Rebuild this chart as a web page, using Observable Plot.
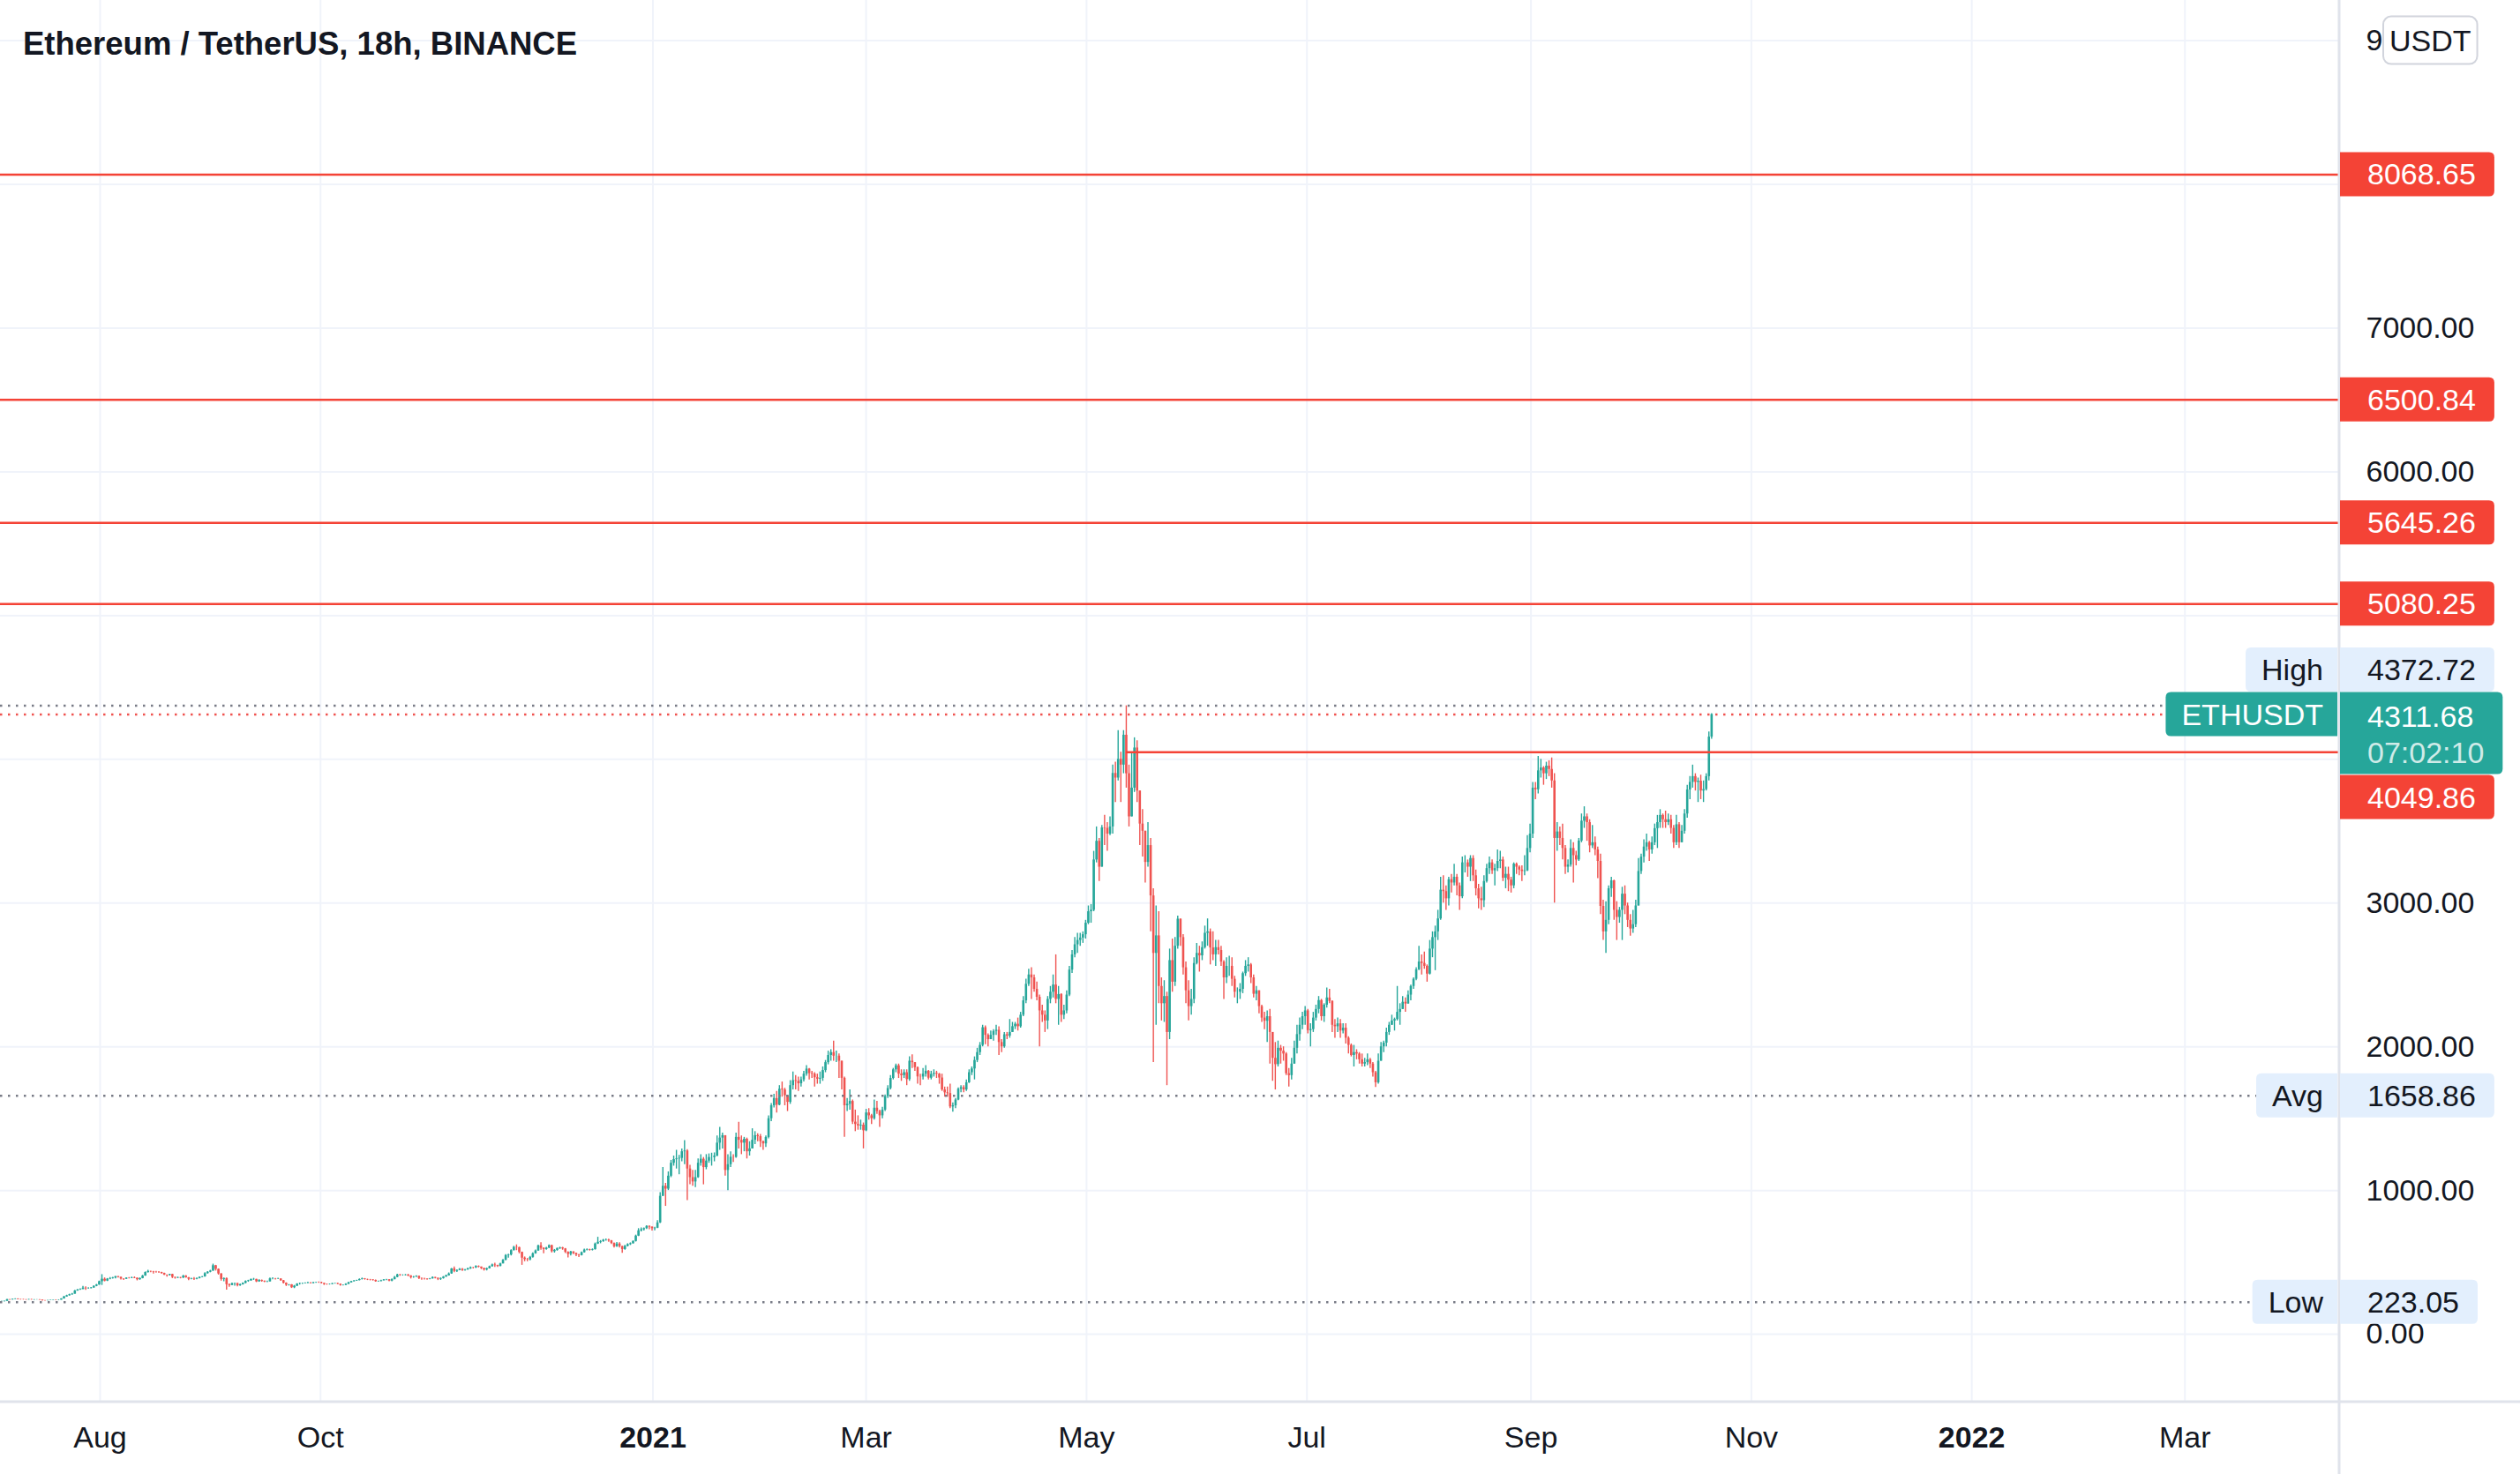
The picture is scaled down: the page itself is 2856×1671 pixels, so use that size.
<!DOCTYPE html>
<html><head><meta charset="utf-8">
<script src="https://cdn.jsdelivr.net/npm/d3@7"></script>
<script src="https://cdn.jsdelivr.net/npm/@observablehq/plot@0.6"></script>
<style>
html,body{margin:0;padding:0;background:#fff;overflow:hidden;}
#chart svg{display:block;}
</style></head><body><div id="chart"></div>
<script>
// ---------------- DATA ----------------
const title = "Ethereum / TetherUS, 18h, BINANCE";
const firstOpen = 225;
const firstBarUTC = "2020-07-04T00:00:00Z";
const barHours = 18;
// each bar: [close, high, low]; open = previous close
const bars2020JulSep = [
[228,230,223],[228,231,226],[230,231,225],[241,243,229],
[239,242,236],[243,244,238],[245,248,242],[242,247,240],
[241,243,238],[240,243,238],[239,242,237],[241,243,238],
[239,243,238],[240,242,237],[240,242,238],[238,241,237],
[234,239,231],[233,235,231],[234,236,232],[236,237,233],
[238,239,235],[237,240,235],[238,240,235],[246,248,237],
[260,264,245],[268,272,258],[275,279,266],[279,285,272],
[301,305,279],[308,312,300],[312,316,306],[321,333,310],
[317,330,305],[318,324,313],[322,325,316],[334,336,321],
[343,347,331],[366,370,341],[383,415,340],[370,392,365],
[384,388,367],[388,395,380],[392,396,384],[401,403,385],
[396,402,392],[385,398,378],[383,387,375],[391,393,381],
[390,394,386],[393,398,387],[390,399,387],[380,392,372],
[388,392,376],[405,410,386],[430,434,404],[437,446,425],
[435,440,428],[432,438,420],[431,437,425],[430,436,424],
[424,432,418],[412,425,408],[409,413,398],[416,418,406],
[396,418,388],[391,396,384],[394,398,388],[391,396,386],
[405,410,389],[394,408,390],[383,395,373],[386,390,379],
[383,394,375],[388,392,380],[396,399,386],[399,402,393],
[422,428,398],[432,436,420],[440,445,428],[477,488,438],
[452,480,440],[420,455,412],[382,422,370],[388,392,365],
[345,392,308],[340,350,328],[352,357,338],[353,357,335],
[338,355,330],[344,350,333],[354,358,342],[368,372,352],
[372,376,362],[381,385,369],[382,389,375],[365,383,360],
[375,380,362],[370,378,363],[364,370,360],[365,370,360],
[386,392,364],[386,393,380],[384,388,378],[385,390,381],
[373,386,368],[355,375,350],[342,358,333],[344,346,336],
[324,346,319],[335,340,318],[350,352,332],[352,356,342],
[353,356,347],[355,358,350],[357,362,352],[354,360,350],
[359,361,351],[360,363,355],[359,364,355],[354,362,351]
];
const bars2020OctDec = [
[347,355,340],[346,350,342],[347,350,343],[352,354,345],
[353,355,349],[348,355,345],[340,350,335],[341,344,336],
[348,352,338],[358,362,346],[366,369,356],[370,375,364],
[374,377,368],[381,386,372],[385,391,378],[381,388,377],
[379,384,374],[378,382,372],[375,380,370],[366,378,362],
[367,370,363],[372,376,365],[378,381,372],[379,383,374],
[370,381,365],[380,385,366],[396,403,380],[413,418,393],
[410,416,404],[410,414,405],[412,416,406],[406,417,401],
[395,408,385],[398,402,390],[403,407,396],[388,406,381],
[386,392,376],[385,390,378],[383,387,377],[386,389,380],
[395,399,384],[390,397,385],[383,390,374],[388,392,375],
[398,402,384],[407,412,397],[420,427,405],[455,458,418],
[438,468,428],[444,448,430],[452,458,442],[444,457,437],
[448,452,440],[455,460,446],[463,468,452],[462,466,455],
[472,477,458],[468,476,462],[458,466,450],[448,460,440],
[456,461,441],[470,475,455],[482,488,468],[478,495,466],
[472,480,466],[490,494,470],[515,520,490],[548,555,512],
[552,558,530],[582,588,545],[605,612,580],[603,622,582],
[570,606,560],[530,572,480],[520,538,505],[518,528,505],
[535,542,512],[560,566,530],[580,586,558],[615,620,578],
[598,637,585],[590,602,560],[600,605,585],[617,622,596],
[575,620,566],[584,590,565],[597,600,578],[601,606,590],
[594,605,585],[570,597,562],[556,574,531],[573,577,545],
[562,575,555],[552,565,540],[548,556,535],[568,572,545],
[586,592,565],[589,594,580],[585,592,579],[589,594,580],
[628,635,586],[640,675,625],[645,652,630],[655,660,640],
[656,664,648],[650,662,640],[632,652,625],[609,636,600],
[628,638,605],[610,637,600],[590,612,564],[612,618,585],
[624,630,608],[630,636,618],[646,650,628],[683,690,642],
[720,735,680],[728,740,712],[735,740,718],[751,755,730],
[745,754,728],[735,748,718],[738,744,720],[775,790,735]
];
const bars2021JanMar = [
[960,985,770],[1030,1160,960],[1010,1050,890],[1100,1130,1000],
[1190,1210,1090],[1215,1240,1170],[1220,1280,1150],[1224,1245,1110],
[1270,1290,1200],[1275,1347,1180],[1150,1285,930],[1090,1175,1040],
[1060,1140,1030],[1090,1140,1020],[1190,1220,1085],[1218,1250,1170],
[1160,1230,1040],[1205,1250,1145],[1230,1255,1190],[1230,1260,1170],
[1240,1262,1200],[1330,1380,1235],[1365,1440,1280],[1382,1400,1290],
[1140,1380,1100],[1180,1250,1000],[1232,1270,1160],[1231,1250,1195],
[1370,1400,1225],[1350,1475,1290],[1330,1380,1250],[1357,1370,1270],
[1270,1365,1220],[1290,1340,1240],[1350,1430,1300],[1382,1410,1320],
[1375,1395,1340],[1340,1390,1300],[1325,1345,1280],[1369,1380,1300],
[1500,1520,1360],[1590,1605,1480],[1640,1670,1575],[1594,1690,1540],
[1705,1730,1590],[1700,1755,1650],[1660,1712,1590],[1614,1660,1550],
[1730,1765,1600],[1765,1825,1700],[1760,1800,1700],[1743,1790,1690],
[1770,1790,1720],[1810,1830,1755],[1845,1870,1795],[1814,1850,1770],
[1810,1830,1780],[1785,1820,1720],[1775,1810,1740],[1781,1825,1740],
[1835,1860,1760],[1890,1905,1820],[1940,1970,1875],[1960,1980,1900],
[1935,2040,1900],[1935,1970,1890],[1900,1950,1780],[1781,1900,1700],
[1590,1790,1370],[1600,1640,1550],[1620,1700,1560],[1476,1630,1460],
[1460,1560,1410],[1450,1520,1420],[1455,1490,1420],[1416,1470,1290],
[1540,1565,1410],[1520,1570,1490],[1500,1530,1460],[1573,1630,1490],
[1550,1620,1530],[1520,1560,1440],[1560,1580,1500],[1654,1665,1550],
[1710,1730,1640],[1780,1800,1700],[1840,1850,1770],[1868,1880,1820],
[1810,1880,1780],[1800,1840,1760],[1820,1840,1780],[1772,1840,1730],
[1900,1930,1760],[1890,1945,1850],[1855,1880,1830],[1791,1860,1740],
[1790,1810,1730],[1810,1850,1770],[1830,1870,1790],[1782,1835,1770],
[1808,1830,1770],[1815,1840,1790],[1810,1830,1780],[1783,1815,1740],
[1700,1810,1690],[1680,1720,1650],[1675,1720,1650],[1582,1740,1570],
[1590,1610,1545],[1630,1640,1570],[1705,1715,1625],[1716,1730,1680],
[1700,1730,1680],[1750,1770,1690],[1820,1840,1745],[1846,1860,1800],
[1905,1930,1770],[1960,1990,1890],[2010,2030,1940],[2133,2150,2000]
];
const bars2021AprJun = [
[2080,2145,2015],[2050,2090,2000],[2080,2110,2050],[2107,2120,2040],
[2115,2150,2080],[2030,2140,1940],[2000,2050,1960],[2084,2100,1990],
[2075,2100,2050],[2100,2190,2060],[2140,2170,2100],[2157,2170,2120],
[2140,2200,2110],[2220,2240,2130],[2320,2350,2210],[2435,2470,2300],
[2500,2540,2420],[2480,2550,2330],[2400,2500,2380],[2345,2450,2320],
[2250,2360,2000],[2220,2290,2170],[2180,2250,2100],[2330,2350,2120],
[2380,2420,2300],[2430,2500,2340],[2330,2640,2300],[2364,2420,2150],
[2220,2370,2170],[2250,2290,2190],[2360,2390,2230],[2534,2560,2350],
[2640,2670,2510],[2710,2760,2620],[2740,2790,2650],[2757,2790,2700],
[2780,2800,2720],[2860,2880,2750],[2940,2980,2850],[2950,2990,2860],
[3300,3360,2940],[3430,3530,3280],[3250,3450,3150],[3523,3540,3250],
[3520,3610,3400],[3480,3560,3360],[3530,3600,3470],[3902,3960,3480],
[3870,3980,3700],[4000,4200,3850],[3960,4050,3700],[4168,4200,3900],
[3900,4372.72,3800],[3600,3960,3530],[3800,4050,3600],[4079,4150,3770],
[3780,4130,3700],[3550,3780,3400],[3500,3650,3320],[3283,3500,3140],
[3400,3560,3250],[3050,3450,2800],[2650,3100,1890],[2772,2980,2150],
[2420,2940,2300],[2300,2480,2180],[2350,2460,2170],[2100,2380,1730],
[2600,2680,2050],[2450,2750,2380],[2700,2760,2420],[2888,2910,2680],
[2760,2890,2700],[2550,2780,2500],[2390,2590,2300],[2280,2460,2180],
[2330,2400,2220],[2580,2620,2300],[2650,2720,2570],[2633,2700,2520],
[2690,2730,2600],[2790,2840,2680],[2800,2890,2700],[2688,2820,2570],
[2640,2800,2600],[2690,2740,2560],[2670,2740,2640],[2590,2700,2560],
[2480,2600,2330],[2560,2620,2440],[2560,2630,2490],[2470,2620,2420],
[2380,2490,2340],[2380,2410,2300],[2400,2440,2330],[2509,2520,2370],
[2560,2600,2490],[2570,2620,2520],[2480,2580,2440],[2366,2500,2340],
[2390,2420,2320],[2280,2390,2230],[2200,2290,2170],[2178,2240,2120],
[2210,2250,2030],[2100,2260,1880],[1920,2100,1760],[1876,2030,1700],
[1990,2040,1860],[1970,2010,1880],[1950,2000,1900],[1813,1960,1800],
[1800,1850,1720],[1880,1920,1770],[1990,2040,1880],[2085,2150,1950],
[2150,2200,2040],[2210,2240,2120],[2250,2280,2150],[2113,2260,2090]
];
const bars2021JulOct = [
[2120,2160,2000],[2200,2240,2100],[2260,2290,2180],[2322,2350,2230],
[2210,2330,2180],[2290,2300,2170],[2340,2410,2270],[2316,2400,2300],
[2150,2320,2100],[2140,2190,2060],[2160,2200,2100],[2110,2190,2060],
[2130,2160,2090],[2060,2160,2020],[2010,2070,1950],[1940,2020,1930],
[1960,2010,1860],[1950,1980,1910],[1910,1960,1880],[1880,1950,1860],
[1890,1920,1860],[1910,1950,1870],[1880,1920,1850],[1820,1890,1790],
[1750,1830,1718],[1900,1950,1740],[2000,2030,1920],[2026,2040,1960],
[2100,2130,2000],[2150,2170,2080],[2180,2220,2150],[2190,2200,2110],
[2240,2420,2180],[2260,2300,2150],[2310,2350,2260],[2298,2340,2240],
[2360,2390,2300],[2420,2430,2320],[2470,2480,2400],[2536,2550,2460],
[2590,2700,2530],[2580,2640,2500],[2560,2660,2540],[2506,2570,2450],
[2680,2740,2500],[2760,2800,2620],[2800,2840,2530],[2890,2950,2740],
[3090,3180,2880],[3080,3190,3000],[3030,3120,2950],[3163,3180,2980],
[3140,3200,3070],[3180,3270,3120],[3120,3200,3050],[3044,3140,2950],
[3280,3320,3030],[3280,3330,3210],[3250,3300,3180],[3310,3330,3150],
[3190,3330,3150],[3100,3230,3050],[3030,3130,2960],[3017,3110,2950],
[3150,3190,2970],[3240,3270,3140],[3280,3320,3200],[3225,3300,3200],
[3240,3270,3120],[3290,3370,3220],[3300,3360,3240],[3173,3320,3150],
[3200,3250,3100],[3160,3250,3080],[3120,3180,3070],[3271,3280,3100],
[3250,3280,3200],[3230,3260,3190],[3220,3260,3150],[3224,3330,3190],
[3380,3470,3220],[3480,3550,3350],[3800,3840,3450],[3789,3840,3720],
[3920,4020,3760],[3940,4000,3870],[3900,3950,3820],[3953,3980,3860],
[3930,3990,3880],[3850,4010,3800],[3450,3900,3000],[3495,3560,3360],
[3450,3530,3400],[3380,3550,3300],[3250,3400,3200],[3265,3300,3210],
[3380,3440,3250],[3330,3420,3140],[3300,3360,3260],[3432,3450,3290],
[3570,3620,3420],[3600,3670,3520],[3560,3620,3430],[3398,3580,3350],
[3420,3540,3380],[3370,3460,3330],[3290,3390,3170],[2977,3340,2920],
[2800,3020,2740],[2880,3010,2650],[3100,3120,2850],[3155,3180,3040],
[2950,3160,2880],[2900,3010,2740],[2950,2970,2860],[3062,3110,2740],
[2980,3120,2920],[2880,3000,2830],[2820,2920,2770],[2850,2950,2790],
[2980,3020,2830],[3220,3310,2990],[3320,3340,3200],[3390,3440,3280],
[3420,3480,3360],[3370,3430,3290],[3420,3460,3340],[3518,3550,3400],
[3560,3610,3380],[3610,3650,3520],[3580,3620,3520],[3560,3640,3520],
[3580,3620,3540],[3520,3610,3480],[3420,3540,3380],[3545,3610,3400],
[3420,3560,3380],[3500,3540,3420],[3620,3650,3480],[3787,3820,3590],
[3840,3880,3720],[3880,3960,3800],[3840,3900,3780],[3848,3870,3700],
[3780,3890,3720],[3790,3850,3700],[3880,3900,3780],[4155,4190,3850],
[4311.68,4318,4140]
];

const yTicks = [0,1000,2000,3000,4000,5000,6000,7000,8000,9000];
const xTicks = [
  {date:"2020-08-01", label:"Aug"}, {date:"2020-10-01", label:"Oct"},
  {date:"2021-01-01", label:"2021", year:true}, {date:"2021-03-01", label:"Mar"},
  {date:"2021-05-01", label:"May"}, {date:"2021-07-01", label:"Jul"},
  {date:"2021-09-01", label:"Sep"}, {date:"2021-11-01", label:"Nov"},
  {date:"2022-01-01", label:"2022", year:true}, {date:"2022-03-01", label:"Mar"}
];
const levels = [
  {price:8068.65, label:"8068.65", from:null},
  {price:6500.84, label:"6500.84", from:null},
  {price:5645.26, label:"5645.26", from:null},
  {price:5080.25, label:"5080.25", from:null},
  {price:4049.86, label:"4049.86", from:"2021-05-12T00:00:00Z"}
];
const stats = [
  {name:"High", value:4372.72, label:"4372.72"},
  {name:"Avg", value:1658.86, label:"1658.86"},
  {name:"Low", value:223.05, label:"223.05"}
];
const current = {name:"ETHUSDT", value:4311.68, label:"4311.68", countdown:"07:02:10"};
const currency = "USDT";
const xDomainUTC = ["2020-07-04T09:56:00Z", "2022-04-12T13:05:00Z"];
const yDomain = [-466, 9280];

// ---------------- BUILD ----------------
const raw = [].concat(bars2020JulSep, bars2020OctDec, bars2021JanMar, bars2021AprJun, bars2021JulOct);
const t0 = new Date(firstBarUTC).getTime();
let prevClose = firstOpen;
const candles = raw.map(([c, h, l], i) => {
  const o = prevClose; prevClose = c;
  return {date: new Date(t0 + i * barHours * 3600e3), open: o, close: c,
          high: Math.max(h, o, c), low: Math.min(l, o, c)};
});
const upBars = candles.filter(d => d.close >= d.open);
const downBars = candles.filter(d => d.close < d.open);
const tickData = xTicks.map(d => ({...d, date: new Date(d.date + "T00:00:00Z")}));
const xDomain = xDomainUTC.map(s => new Date(s));

const W = 2856, H = 1671;
const UP = "#26a69a", DOWN = "#ef5350", RED = "#f44336", GRID = "#f0f3fa", TEXT = "#131722";
const FONT = "'Liberation Sans', Arial, sans-serif";

const chart = Plot.plot({
  width: W, height: H,
  marginLeft: 0, marginRight: 206, marginTop: 0, marginBottom: 83,
  style: {fontFamily: FONT, fontSize: "34px", color: TEXT, background: "#fff"},
  x: {type: "utc", domain: xDomain, axis: null},
  y: {domain: yDomain, axis: null},
  marks: [
    Plot.gridY(yTicks, {stroke: GRID, strokeOpacity: 1, strokeWidth: 2}),
    Plot.gridX(tickData.map(d => d.date), {stroke: GRID, strokeOpacity: 1, strokeWidth: 2}),
    Plot.axisY(yTicks, {anchor: "right", tickSize: 0, tickPadding: 31, textAnchor: "start",
      tickFormat: d => d.toFixed(2), fontSize: 34, fill: TEXT}),
    Plot.text(tickData.filter(d => !d.year), {x: "date", text: "label", frameAnchor: "bottom",
      dy: 42, lineAnchor: "middle", fontSize: 34, fill: TEXT}),
    Plot.text(tickData.filter(d => d.year), {x: "date", text: "label", frameAnchor: "bottom",
      dy: 42, lineAnchor: "middle", fontSize: 34, fontWeight: "bold", fill: TEXT}),
    Plot.ruleX(upBars, {x: "date", y1: "low", y2: "high", stroke: UP, strokeWidth: 1.4}),
    Plot.ruleX(upBars, {x: "date", y1: "open", y2: "close", stroke: UP, strokeWidth: 2.6}),
    Plot.ruleX(downBars, {x: "date", y1: "low", y2: "high", stroke: DOWN, strokeWidth: 1.4}),
    Plot.ruleX(downBars, {x: "date", y1: "open", y2: "close", stroke: DOWN, strokeWidth: 2.6}),
    Plot.ruleY(levels, {y: "price", x1: d => d.from ? new Date(d.from) : xDomain[0], x2: xDomain[1],
      stroke: RED, strokeWidth: 2.5}),
    Plot.ruleY(stats, {y: "value", stroke: "#787b86", strokeWidth: 2.5, strokeDasharray: "2.5,6.5"}),
    Plot.ruleY([current], {y: "value", stroke: DOWN, strokeWidth: 2.5, strokeDasharray: "2.5,6.5"})
  ]
});
document.getElementById("chart").appendChild(chart);

// ---------------- OVERLAYS (axis lines, price labels, title) ----------------
const svg = d3.select(chart);
const sx = chart.scale("x"), sy = chart.scale("y");
const axisX = sx.apply(xDomain[1]);          // right edge of pane
const axisY = sy.apply(yDomain[0]);          // bottom edge of pane
svg.append("line").attr("x1", axisX + 1).attr("x2", axisX + 1).attr("y1", 0).attr("y2", H)
  .attr("stroke", "#e0e3eb").attr("stroke-width", 3);
svg.append("line").attr("x1", 0).attr("x2", W).attr("y1", axisY + 1).attr("y2", axisY + 1)
  .attr("stroke", "#e0e3eb").attr("stroke-width", 3);

const g = svg.append("g").attr("font-family", FONT).attr("font-size", 34).attr("text-anchor", "start");
function measure(t) { const n = g.append("text").text(t); const w = n.node().getComputedTextLength(); n.remove(); return w; }
function roundRect(x, y, w, h, rl, rr) {
  return `M${x + rl},${y}H${x + w - rr}Q${x + w},${y} ${x + w},${y + rr}V${y + h - rr}Q${x + w},${y + h} ${x + w - rr},${y + h}` +
         `H${x + rl}Q${x},${y + h} ${x},${y + h - rl}V${y + rl}Q${x},${y} ${x + rl},${y}Z`;
}
const valX = axisX + 2, PADL = 31, PADR = 21, BOXH = 50, HALF = 25, NPL = 18, NPR = 16, BASE = 12;

// current price label (fixed)
const curY = sy.apply(current.value);
const curTop = curY - HALF, curH = 93, curBottom = curTop + curH;
function placed(v) {
  let yc = sy.apply(v);
  if (yc + HALF > curTop && yc - HALF < curBottom) yc = yc < curY ? curTop - HALF - 0.5 : curBottom + HALF + 1;
  return yc;
}
function valueBox(yc, text, fill, color) {
  const w = PADL + measure(text) + PADR;
  g.append("path").attr("d", roundRect(valX, yc - HALF, w, BOXH, 0, 6)).attr("fill", fill);
  g.append("text").attr("x", valX + PADL).attr("y", yc + BASE).attr("text-anchor", "start").attr("fill", color).text(text);
}
function nameBox(yc, text, fill, color) {
  const w = measure(text), right = axisX - 1;
  g.append("path").attr("d", roundRect(right - NPR - w - NPL, yc - HALF, NPR + w + NPL, BOXH, 6, 0)).attr("fill", fill);
  g.append("text").attr("x", right - NPR).attr("y", yc + BASE).attr("text-anchor", "end").attr("fill", color).text(text);
}
levels.forEach(d => valueBox(placed(d.price), d.label, RED, "#fff"));
stats.forEach(d => { const yc = placed(d.value); nameBox(yc, d.name, "#e3effd", TEXT); valueBox(yc, d.label, "#e3effd", TEXT); });
// current
{
  const w = PADL + Math.max(measure(current.label), measure(current.countdown)) + PADR;
  g.append("path").attr("d", roundRect(valX, curTop, w, curH, 0, 6)).attr("fill", UP);
  g.append("text").attr("x", valX + PADL).attr("y", curTop + 39).attr("text-anchor", "start").attr("fill", "#fff").text(current.label);
  g.append("text").attr("x", valX + PADL).attr("y", curTop + 80).attr("text-anchor", "start").attr("fill", "#fff").attr("fill-opacity", 0.78).text(current.countdown);
  nameBox(curY, current.name, UP, "#fff");
}
// currency box over the top tick
{
  const yc = sy.apply(9000);
  const w = measure(currency) + 14, x0 = valX + 49;
  g.append("rect").attr("x", x0).attr("y", yc - 27).attr("width", w).attr("height", 54).attr("rx", 9)
    .attr("fill", "#fff").attr("stroke", "#d1d4dc").attr("stroke-width", 2);
  g.append("text").attr("x", x0 + w / 2).attr("y", yc + BASE).attr("text-anchor", "middle").attr("fill", TEXT).text(currency);
}
// title
svg.append("text").attr("x", 26).attr("y", 62).attr("font-family", FONT).attr("font-weight", "bold")
  .attr("text-anchor", "start").attr("font-size", 36.5).attr("fill", TEXT).text(title);
</script></body></html>
